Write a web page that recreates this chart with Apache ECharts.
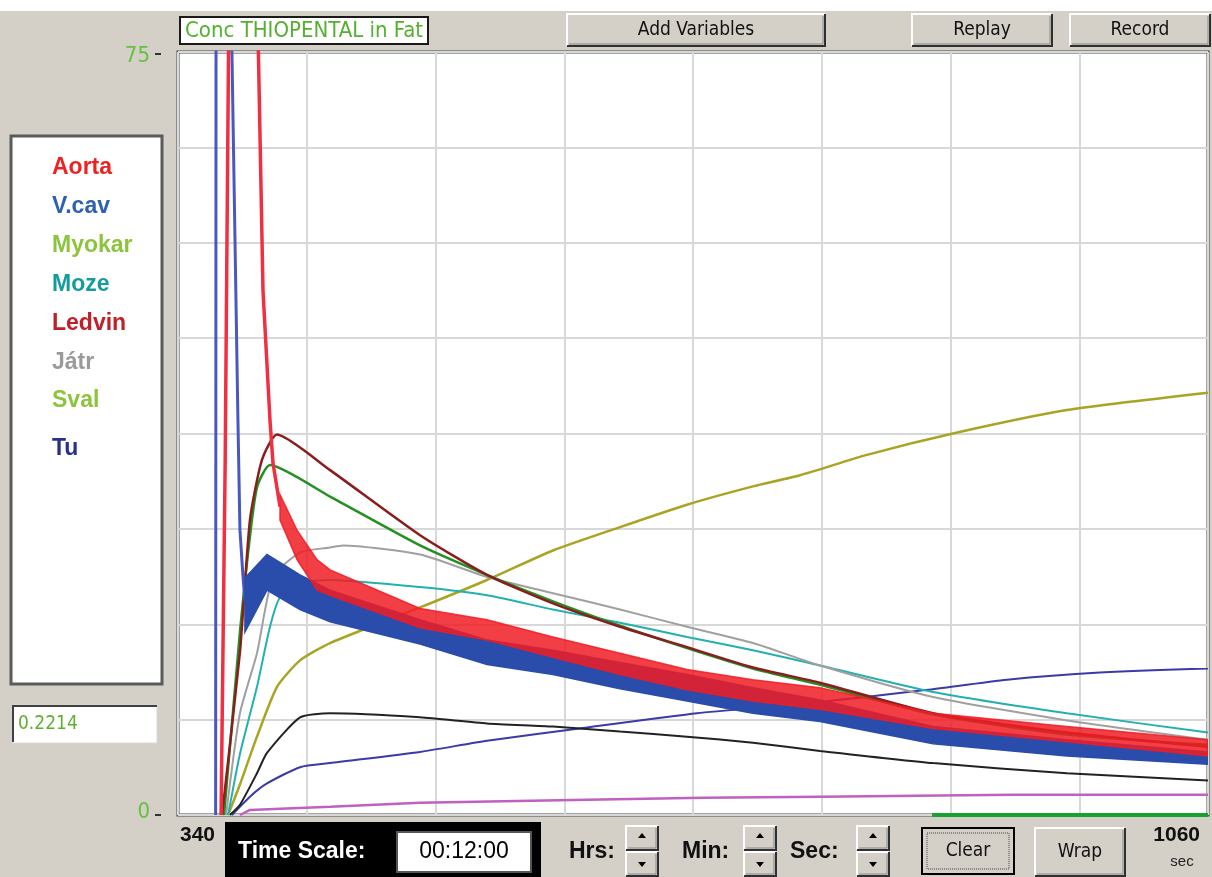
<!DOCTYPE html>
<html><head><meta charset="utf-8">
<script src="https://cdn.jsdelivr.net/npm/echarts@6/dist/echarts.min.js"></script>
<style>html,body{margin:0;padding:0;background:#fff;}#c{width:1212px;height:877px;}</style>
</head><body><div id="c"></div>
<script>
// ---- data (time in s, concentration) ----
const xTickLabels = [340, 1060];
const yTickLabels = [0, 75];
const legendNames = ['Aorta', 'V.cav', 'Myokar', 'Moze', 'Ledvin', 'Játr', 'Sval', 'Tu'];

const aortaSpike = [[370.1,0],[373.0,35],[375.6,80],[395.5,80],[396.2,75],[399.4,51.6],[404.3,38.8],[406.4,34.6],[411.3,30.3]];
const aortaX    = [411.3, 423.2, 437.2, 446.3, 509.2, 556.0, 602.1, 649.0, 695.8, 741.9, 788.8, 867.8, 961.4, 1060];
const aortaHigh = [31.5, 28.0, 25.1, 24.1, 20.3, 19.2, 17.5, 15.9, 14.3, 13.3, 12.5, 10.0, 8.7, 7.4];
const aortaLow  = [29.0, 25.1, 22.1, 21.6, 18.4, 17.2, 15.5, 13.8, 12.3, 11.2, 10.4, 8.5, 7.2, 5.8];

const vcavSpike = [[366.3,0],[366.6,80],[376.8,80],[377.7,75],[381.9,38.8],[383.3,28.0],[385.4,23.5],[386.8,21.0]];
const vcavX    = [386.8, 402.2, 425.3, 446.3, 509.2, 556.0, 602.1, 649.0, 695.8, 741.9, 788.8, 867.8, 961.4, 1060];
const vcavHigh = [23.3, 25.6, 23.6, 22.1, 19.2, 17.2, 16.2, 15.0, 13.8, 12.5, 11.3, 8.7, 7.4, 6.2];
const vcavLow  = [18.0, 22.1, 20.2, 19.0, 16.8, 14.8, 13.8, 12.4, 11.2, 10.0, 9.2, 7.0, 5.8, 5.0];

const ledvin = [[370.8,0],[383.3,16],[390.3,29.0],[398.7,34.9],[409.2,37.4],[446.3,33.9],[509.2,27.5],[556.0,23.6],[602.1,20.8],[649.0,18.5],[695.8,16.5],[741.9,14.5],[788.8,13.0],[867.8,10.0],[961.4,8.1],[1060,6.7]];
const myokar = [[372.2,0],[383.3,18],[389.0,25.8],[395.2,32.2],[404.3,34.4],[446.3,31.3],[509.2,26.5],[556.0,23.6],[602.1,21.0],[649.0,18.6],[695.8,16.4],[741.9,14.4],[788.8,12.8],[867.8,9.9],[961.4,7.9],[1060,6.9]];
const jatr   = [[373.6,0],[383.3,10],[395.2,15.9],[406.4,23.4],[425.3,25.8],[446.3,26.3],[455.3,26.5],[509.2,25.6],[556.0,23.4],[602.1,21.8],[649.0,20.2],[695.8,18.5],[741.9,16.9],[788.8,14.7],[867.8,11.6],[961.4,9.3],[1060,7.4]];
const moze   = [[375.0,0],[383.3,6],[395.2,12.6],[404.3,18.5],[411.3,21.4],[425.3,22.8],[446.3,23.1],[509.2,22.4],[556.0,21.6],[602.1,20.2],[649.0,18.9],[695.8,17.5],[741.9,16.2],[788.8,14.7],[867.8,12.1],[961.4,10.0],[1060,8.1]];
const fat    = [[375.0,0],[383.3,3],[395.2,7.7],[409.2,12.6],[425.3,15.2],[446.3,16.9],[509.2,20.4],[556.0,23.1],[602.1,26.0],[649.0,28.3],[695.8,30.5],[741.9,32.3],[774.8,33.4],[821.6,35.4],[881.7,37.5],[961.4,39.8],[1060,41.5]];
const blackS = [[376.3,0],[383.3,1],[395.2,4.1],[402.2,6.1],[425.3,9.6],[446.3,10.0],[509.2,9.6],[556.0,9.0],[602.1,8.7],[649.0,8.2],[695.8,7.7],[741.9,7.1],[788.8,6.3],[867.8,5.1],[961.4,4.1],[1060,3.4]];
const tu     = [[377.7,0],[390.3,1.8],[402.2,3.1],[425.3,4.7],[446.3,5.1],[509.2,6.2],[556.0,7.3],[625.9,8.6],[702.8,10.0],[774.8,10.9],[863.6,12.3],[919.5,13.3],[984.5,14.0],[1060,14.4]];
const magenta = [[383.3,0],[390.3,0.5],[446.3,0.8],[509.2,1.2],[625.9,1.5],[707.0,1.7],[788.8,1.8],[923.7,2.0],[1060,2.0]];
const baseGreen = [[867.1,0],[1060,0]];

// ---- helpers ----
const NARROW = "'Liberation Sans Narrow','DejaVu Sans Condensed','Arial Narrow',sans-serif";
const SANS = "'Liberation Sans',Arial,sans-serif";
function txt(x, y, text, font, fill, align) {
  return {type:'text', x:x, y:y, z:10, style:{text:text, font:font, fill:fill, align:align||'left', textAlign:align||'left', verticalAlign:'middle', textVerticalAlign:'middle'}};
}
function btn(x, y, w, h, label, font) {
  const els = [
    {type:'rect', z:5, shape:{x:x,y:y,width:w,height:h}, style:{fill:'#d4d0c8'}},
    {type:'polyline', z:6, shape:{points:[[x,y+h],[x,y],[x+w,y]]}, style:{stroke:'#ffffff', lineWidth:2, fill:null}},
    {type:'polyline', z:6, shape:{points:[[x,y+h],[x+w,y+h],[x+w,y]]}, style:{stroke:'#303030', lineWidth:2, fill:null}},
    {type:'polyline', z:6, shape:{points:[[x+2,y+h-2],[x+w-2,y+h-2],[x+w-2,y+2]]}, style:{stroke:'#888888', lineWidth:1, fill:null}}
  ];
  if (label) els.push(txt(x+w/2, y+h/2, label, font, '#111', 'center'));
  return els;
}
function spinner(x) {
  let els = btn(x, 826, 32, 24).concat(btn(x, 852, 32, 24));
  els.push({type:'polygon', z:8, shape:{points:[[x+12,838],[x+20,838],[x+16,833]]}, style:{fill:'#000'}});
  els.push({type:'polygon', z:8, shape:{points:[[x+12,862],[x+20,862],[x+16,867]]}, style:{fill:'#000'}});
  return els;
}

const legendColors = ['#ee2222','#2e5fb5','#8cc43c','#149c9c','#c0202a','#9a9a9a','#8cc43c','#27318c'];
const legendY = [168, 207, 246, 285, 324, 363, 401, 449];

let g = [];
g.push({type:'rect', z:1, shape:{x:0,y:0,width:1212,height:11}, style:{fill:'#ffffff'}});
g.push({type:'rect', z:5, shape:{x:180,y:17,width:248,height:27}, style:{fill:'#fff', stroke:'#1a1a1a', lineWidth:2}});
g.push(txt(185, 31, 'Conc THIOPENTAL in Fat', '22px ' + NARROW, '#55b030'));
g = g.concat(btn(567, 14, 258, 32, 'Add Variables', '19px ' + NARROW));
g = g.concat(btn(912, 14, 140, 32, 'Replay', '19px ' + NARROW));
g = g.concat(btn(1070, 14, 140, 32, 'Record', '19px ' + NARROW));
g.push({type:'rect', z:5, shape:{x:11,y:136,width:151,height:548}, style:{fill:'#fff', stroke:'#5a5a5a', lineWidth:3}});
legendNames.forEach((n, i) => g.push(txt(52, legendY[i], n, 'bold 23px ' + SANS, legendColors[i])));
g.push({type:'rect', z:5, shape:{x:12,y:705,width:145,height:38}, style:{fill:'#fff', stroke:'#d8d8d8', lineWidth:1}});
g.push({type:'polyline', z:6, shape:{points:[[13,742],[13,706],[157,706]]}, style:{stroke:'#404040', lineWidth:2, fill:null}});
g.push(txt(18, 724, '0.2214', '19px ' + NARROW, '#60b030'));
g.push({type:'rect', z:5, shape:{x:155,y:53,width:6,height:2}, style:{fill:'#333'}});
g.push({type:'rect', z:5, shape:{x:155,y:814,width:6,height:2}, style:{fill:'#333'}});
g.push({type:'rect', z:5, shape:{x:225,y:822,width:316,height:55}, style:{fill:'#000'}});
g.push(txt(238, 852, 'Time Scale:', 'bold 23px ' + SANS, '#ffffff'));
g.push({type:'rect', z:6, shape:{x:397,y:832,width:134,height:40}, style:{fill:'#fff', stroke:'#555', lineWidth:2}});
g.push(txt(464, 852, '00:12:00', '23px ' + SANS, '#000', 'center'));
g.push(txt(569, 852, 'Hrs:', 'bold 23px ' + SANS, '#111'));
g = g.concat(spinner(626));
g.push(txt(682, 852, 'Min:', 'bold 23px ' + SANS, '#111'));
g = g.concat(spinner(744));
g.push(txt(790, 852, 'Sec:', 'bold 23px ' + SANS, '#111'));
g = g.concat(spinner(857));
g.push({type:'rect', z:5, shape:{x:922,y:828,width:92,height:46}, style:{fill:'#d4d0c8', stroke:'#000', lineWidth:2}});
g.push({type:'rect', z:6, shape:{x:927,y:833,width:82,height:36}, style:{fill:null, stroke:'#444', lineWidth:1, lineDash:[1,1]}});
g.push(txt(968, 851, 'Clear', '19px ' + NARROW, '#111', 'center'));
g = g.concat(btn(1035, 828, 90, 48, 'Wrap', '19px ' + NARROW));
g.push(txt(1182, 862, 'sec', '15px ' + SANS, '#222', 'center'));

function line(name, data, color, width, smooth) {
  return {name:name, type:'line', data:data, symbol:'none', smooth:smooth,
    lineStyle:{color:color, width:width}, itemStyle:{color:color}, z:3};
}
function band(name, xs, lo, hi, color, opacity) {
  const upper = xs.map((x, i) => [x, hi[i]]);
  const lower = xs.map((x, i) => [x, lo[i]]);
  return {name:name, type:'custom', z:4, clip:true, data:[[xs[0], lo[0]]],
    renderItem:(params, api) => {
      const pts = upper.map(p => api.coord(p)).concat(lower.slice().reverse().map(p => api.coord(p)));
      return {type:'polygon', shape:{points:pts}, style:{fill:color, opacity:opacity, stroke:color, lineWidth:1.5}};
    }};
}

const series = [
  line('Magenta', magenta, '#c060c0', 2.5, false),
  line('Fat', baseGreen, '#18a030', 4, false),
  line('Tu', tu, '#3a3aa8', 2, 0.2),
  line('Black', blackS, '#222222', 2, 0.2),
  line('Sval', fat, '#a8a424', 2.5, 0.2),
  line('Moze', moze, '#22b0b0', 2, 0.2),
  line('Játr', jatr, '#a0a0a0', 2, 0.2),
  line('Myokar', myokar, '#229022', 2.5, 0.2),
  line('Ledvin', ledvin, '#8a1e1e', 2.5, 0.2),
  line('V.cav spike', vcavSpike, '#4858c0', 3, false),
  band('V.cav', vcavX, vcavLow, vcavHigh, '#2a4caa', 1),
  line('Aorta spike', aortaSpike, '#f03040', 3.5, false),
  band('Aorta', aortaX, aortaLow, aortaHigh, '#f01c24', 0.85)
];
series[11].z = 5;

const yLab = {color:'#66c040', fontFamily:NARROW, fontSize:22};
const chart = echarts.init(document.getElementById('c'), null, {renderer:'canvas'});
chart.setOption({
  backgroundColor:'#d4d0c8',
  animation:false,
  grid:{left:178, top:52, right:4, bottom:62, show:true, backgroundColor:'#ffffff', borderColor:'#4a4a4a', borderWidth:3},
  xAxis:{type:'value', min:340, max:1060, interval:90,
    axisLine:{show:false}, axisTick:{show:false},
    splitLine:{show:true, lineStyle:{color:'#d8d8d8', width:2}},
    axisLabel:{margin:10, color:'#111', fontFamily:SANS, fontWeight:'bold', fontSize:21, padding:[0,8,0,2],
      alignMinLabel:'left', alignMaxLabel:'right', showMinLabel:true, showMaxLabel:true,
      formatter:v => (xTickLabels.indexOf(v) >= 0 ? String(v) : '')}},
  yAxis:{type:'value', min:0, max:75, interval:9.375,
    axisLine:{show:false}, axisTick:{show:false},
    splitLine:{show:true, lineStyle:{color:'#d8d8d8', width:2}},
    axisLabel:{margin:28, color:'#66c040', fontFamily:NARROW, fontSize:22,
      rich:{t:Object.assign({padding:[8,0,0,0]}, yLab), b:Object.assign({padding:[0,0,5,0]}, yLab)},
      formatter:v => (v === yTickLabels[1] ? '{t|' + v + '}' : v === yTickLabels[0] ? '{b|' + v + '}' : '')}},
  graphic:{elements:g},
  series:series
});
</script></body></html>
